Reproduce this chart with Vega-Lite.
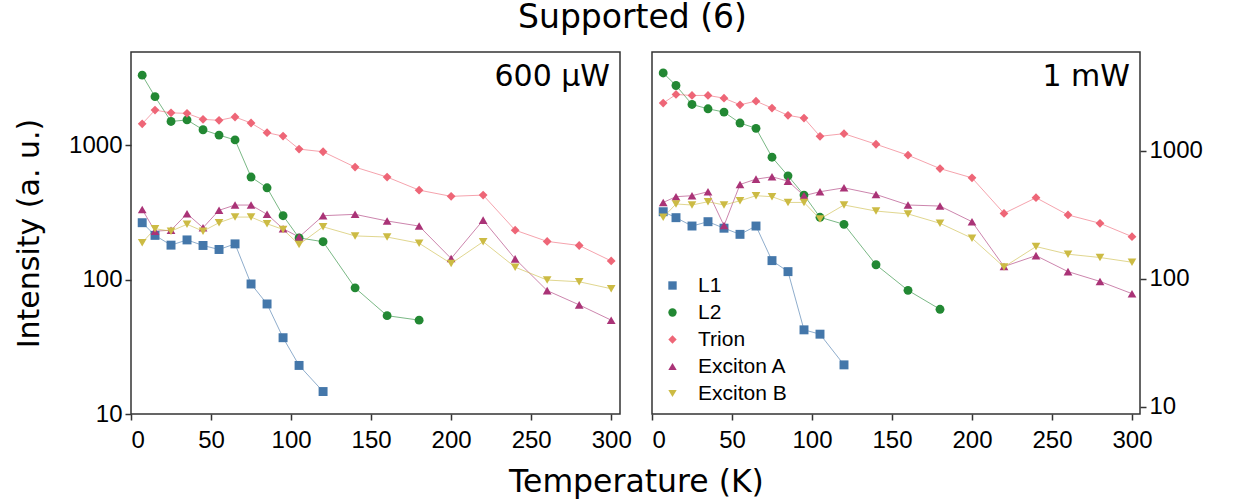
{
  "$schema": "https://vega.github.io/schema/vega-lite/v6.json",
  "background": "white",
  "padding": {"left": 13, "top": 2, "right": 5, "bottom": 5},
  "title": {"text": "Supported (6)", "font": "DejaVu Sans", "fontSize": 33, "fontWeight": "normal", "color": "#000", "anchor": "middle", "offset": 16, "dx": 24},
  "config": {
    "view": {"stroke": "#333", "strokeWidth": 1.5},
    "axis": {"labelFont": "Liberation Sans", "labelFontSize": 24, "labelColor": "#000", "tickColor": "#333", "tickSize": 6, "tickWidth": 1.5, "domain": false, "grid": false, "titleFont": "DejaVu Sans", "titleFontSize": 30, "titleFontWeight": "normal", "titleColor": "#000", "labelPadding": 3},
    "legend": {"labelFont": "Liberation Sans", "labelFontSize": 21, "labelColor": "#000", "symbolSize": 70, "symbolOpacity": 1, "rowPadding": 5, "labelOffset": 15, "symbolStrokeWidth": 0},
    "title": {"font": "DejaVu Sans", "fontWeight": "normal", "color": "#000"}
  },
  "datasets": {
    "left": [
      {"series": "L1", "T": 7, "I": 266}, {"series": "L1", "T": 15, "I": 214}, {"series": "L1", "T": 25, "I": 181}, {"series": "L1", "T": 35, "I": 198}, {"series": "L1", "T": 45, "I": 180}, {"series": "L1", "T": 55, "I": 168}, {"series": "L1", "T": 65, "I": 185}, {"series": "L1", "T": 75, "I": 93}, {"series": "L1", "T": 85, "I": 66}, {"series": "L1", "T": 95, "I": 37}, {"series": "L1", "T": 105, "I": 23}, {"series": "L1", "T": 120, "I": 14.7},
      {"series": "L2", "T": 7, "I": 3340}, {"series": "L2", "T": 15, "I": 2310}, {"series": "L2", "T": 25, "I": 1510}, {"series": "L2", "T": 35, "I": 1550}, {"series": "L2", "T": 45, "I": 1310}, {"series": "L2", "T": 55, "I": 1195}, {"series": "L2", "T": 65, "I": 1100}, {"series": "L2", "T": 75, "I": 582}, {"series": "L2", "T": 85, "I": 484}, {"series": "L2", "T": 95, "I": 300}, {"series": "L2", "T": 105, "I": 205}, {"series": "L2", "T": 120, "I": 192}, {"series": "L2", "T": 140, "I": 87}, {"series": "L2", "T": 160, "I": 54}, {"series": "L2", "T": 180, "I": 50},
      {"series": "Trion", "T": 7, "I": 1450}, {"series": "Trion", "T": 15, "I": 1835}, {"series": "Trion", "T": 25, "I": 1750}, {"series": "Trion", "T": 35, "I": 1735}, {"series": "Trion", "T": 45, "I": 1565}, {"series": "Trion", "T": 55, "I": 1540}, {"series": "Trion", "T": 65, "I": 1630}, {"series": "Trion", "T": 75, "I": 1470}, {"series": "Trion", "T": 85, "I": 1245}, {"series": "Trion", "T": 95, "I": 1175}, {"series": "Trion", "T": 105, "I": 940}, {"series": "Trion", "T": 120, "I": 898}, {"series": "Trion", "T": 140, "I": 690}, {"series": "Trion", "T": 160, "I": 582}, {"series": "Trion", "T": 180, "I": 465}, {"series": "Trion", "T": 200, "I": 418}, {"series": "Trion", "T": 220, "I": 427}, {"series": "Trion", "T": 240, "I": 234}, {"series": "Trion", "T": 260, "I": 193}, {"series": "Trion", "T": 280, "I": 180}, {"series": "Trion", "T": 300, "I": 138},
      {"series": "Exciton A", "T": 7, "I": 334}, {"series": "Exciton A", "T": 15, "I": 230}, {"series": "Exciton A", "T": 25, "I": 234}, {"series": "Exciton A", "T": 35, "I": 310}, {"series": "Exciton A", "T": 45, "I": 244}, {"series": "Exciton A", "T": 55, "I": 329}, {"series": "Exciton A", "T": 65, "I": 360}, {"series": "Exciton A", "T": 75, "I": 360}, {"series": "Exciton A", "T": 85, "I": 307}, {"series": "Exciton A", "T": 95, "I": 240}, {"series": "Exciton A", "T": 105, "I": 208}, {"series": "Exciton A", "T": 120, "I": 300}, {"series": "Exciton A", "T": 140, "I": 307}, {"series": "Exciton A", "T": 160, "I": 274}, {"series": "Exciton A", "T": 180, "I": 251}, {"series": "Exciton A", "T": 200, "I": 144}, {"series": "Exciton A", "T": 220, "I": 278}, {"series": "Exciton A", "T": 240, "I": 143}, {"series": "Exciton A", "T": 260, "I": 83}, {"series": "Exciton A", "T": 280, "I": 65}, {"series": "Exciton A", "T": 300, "I": 50},
      {"series": "Exciton B", "T": 7, "I": 189}, {"series": "Exciton B", "T": 15, "I": 240}, {"series": "Exciton B", "T": 25, "I": 230}, {"series": "Exciton B", "T": 35, "I": 259}, {"series": "Exciton B", "T": 45, "I": 230}, {"series": "Exciton B", "T": 55, "I": 266}, {"series": "Exciton B", "T": 65, "I": 293}, {"series": "Exciton B", "T": 75, "I": 293}, {"series": "Exciton B", "T": 85, "I": 261}, {"series": "Exciton B", "T": 95, "I": 237}, {"series": "Exciton B", "T": 105, "I": 183}, {"series": "Exciton B", "T": 120, "I": 248}, {"series": "Exciton B", "T": 140, "I": 212}, {"series": "Exciton B", "T": 160, "I": 208}, {"series": "Exciton B", "T": 180, "I": 187}, {"series": "Exciton B", "T": 200, "I": 132}, {"series": "Exciton B", "T": 220, "I": 192}, {"series": "Exciton B", "T": 240, "I": 124}, {"series": "Exciton B", "T": 260, "I": 99.5}, {"series": "Exciton B", "T": 280, "I": 96.6}, {"series": "Exciton B", "T": 300, "I": 85.7}
    ],
    "right": [
      {"series": "L1", "T": 7, "I": 335}, {"series": "L1", "T": 15, "I": 301}, {"series": "L1", "T": 25, "I": 259}, {"series": "L1", "T": 35, "I": 280}, {"series": "L1", "T": 45, "I": 249}, {"series": "L1", "T": 55, "I": 223}, {"series": "L1", "T": 65, "I": 259}, {"series": "L1", "T": 75, "I": 139}, {"series": "L1", "T": 85, "I": 114}, {"series": "L1", "T": 95, "I": 40}, {"series": "L1", "T": 105, "I": 37}, {"series": "L1", "T": 120, "I": 21.3},
      {"series": "L2", "T": 7, "I": 4066}, {"series": "L2", "T": 15, "I": 3245}, {"series": "L2", "T": 25, "I": 2308}, {"series": "L2", "T": 35, "I": 2134}, {"series": "L2", "T": 45, "I": 2012}, {"series": "L2", "T": 55, "I": 1652}, {"series": "L2", "T": 65, "I": 1502}, {"series": "L2", "T": 75, "I": 893}, {"series": "L2", "T": 85, "I": 639}, {"series": "L2", "T": 95, "I": 452}, {"series": "L2", "T": 105, "I": 303}, {"series": "L2", "T": 120, "I": 267}, {"series": "L2", "T": 140, "I": 129}, {"series": "L2", "T": 160, "I": 81.4}, {"series": "L2", "T": 180, "I": 57.9},
      {"series": "Trion", "T": 7, "I": 2364}, {"series": "Trion", "T": 15, "I": 2762}, {"series": "Trion", "T": 25, "I": 2713}, {"series": "Trion", "T": 35, "I": 2713}, {"series": "Trion", "T": 45, "I": 2585}, {"series": "Trion", "T": 55, "I": 2293}, {"series": "Trion", "T": 65, "I": 2449}, {"series": "Trion", "T": 75, "I": 2161}, {"series": "Trion", "T": 85, "I": 1897}, {"series": "Trion", "T": 95, "I": 1806}, {"series": "Trion", "T": 105, "I": 1301}, {"series": "Trion", "T": 120, "I": 1364}, {"series": "Trion", "T": 140, "I": 1128}, {"series": "Trion", "T": 160, "I": 926}, {"series": "Trion", "T": 180, "I": 728}, {"series": "Trion", "T": 200, "I": 616}, {"series": "Trion", "T": 220, "I": 325}, {"series": "Trion", "T": 240, "I": 431}, {"series": "Trion", "T": 260, "I": 316}, {"series": "Trion", "T": 280, "I": 272}, {"series": "Trion", "T": 300, "I": 214},
      {"series": "Exciton A", "T": 7, "I": 396}, {"series": "Exciton A", "T": 15, "I": 439}, {"series": "Exciton A", "T": 25, "I": 447}, {"series": "Exciton A", "T": 35, "I": 480}, {"series": "Exciton A", "T": 45, "I": 261}, {"series": "Exciton A", "T": 55, "I": 547}, {"series": "Exciton A", "T": 65, "I": 602}, {"series": "Exciton A", "T": 75, "I": 628}, {"series": "Exciton A", "T": 85, "I": 581}, {"series": "Exciton A", "T": 95, "I": 447}, {"series": "Exciton A", "T": 105, "I": 480}, {"series": "Exciton A", "T": 120, "I": 515}, {"series": "Exciton A", "T": 140, "I": 457}, {"series": "Exciton A", "T": 160, "I": 378}, {"series": "Exciton A", "T": 180, "I": 371}, {"series": "Exciton A", "T": 200, "I": 280}, {"series": "Exciton A", "T": 220, "I": 125}, {"series": "Exciton A", "T": 240, "I": 152}, {"series": "Exciton A", "T": 260, "I": 114}, {"series": "Exciton A", "T": 280, "I": 95.6}, {"series": "Exciton A", "T": 300, "I": 76.7},
      {"series": "Exciton B", "T": 7, "I": 303}, {"series": "Exciton B", "T": 15, "I": 385}, {"series": "Exciton B", "T": 25, "I": 378}, {"series": "Exciton B", "T": 35, "I": 401}, {"series": "Exciton B", "T": 45, "I": 378}, {"series": "Exciton B", "T": 55, "I": 408}, {"series": "Exciton B", "T": 65, "I": 447}, {"series": "Exciton B", "T": 75, "I": 439}, {"series": "Exciton B", "T": 85, "I": 396}, {"series": "Exciton B", "T": 95, "I": 396}, {"series": "Exciton B", "T": 105, "I": 294}, {"series": "Exciton B", "T": 120, "I": 378}, {"series": "Exciton B", "T": 140, "I": 339}, {"series": "Exciton B", "T": 160, "I": 322}, {"series": "Exciton B", "T": 180, "I": 272}, {"series": "Exciton B", "T": 200, "I": 208}, {"series": "Exciton B", "T": 220, "I": 124}, {"series": "Exciton B", "T": 240, "I": 179}, {"series": "Exciton B", "T": 260, "I": 156}, {"series": "Exciton B", "T": 280, "I": 147}, {"series": "Exciton B", "T": 300, "I": 135}
    ]
  },
  "vconcat": [
    {
      "title": {"text": "Temperature (K)", "orient": "bottom", "anchor": "middle", "fontSize": 31.5, "offset": 14, "dx": 28},
      "spacing": 18,
      "resolve": {"scale": {"y": "independent"}, "legend": {"color": "independent", "shape": "independent"}},
      "hconcat": [
        {
          "width": 489,
          "height": 362,
          "data": {"name": "left"},
          "title": {"text": "600 μW", "anchor": "end", "align": "right", "frame": "group", "offset": -40, "fontSize": 30, "dx": -10},
          "layer": [
            {
              "mark": {"type": "line", "strokeWidth": 1, "opacity": 0.6},
              "encoding": {
                "x": {"field": "T", "type": "quantitative", "scale": {"domain": [0, 305.5], "nice": false, "zero": false}, "axis": {"values": [0, 50, 100, 150, 200, 250, 300], "labelPadding": 8, "title": null}},
                "y": {"field": "I", "type": "quantitative", "scale": {"type": "log", "domain": [10, 4970], "nice": false}, "axis": {"values": [10, 100, 1000], "format": "d", "title": "Intensity (a. u.)", "titlePadding": 24}},
                "color": {"field": "series", "type": "nominal", "scale": {"domain": ["L1", "L2", "Trion", "Exciton A", "Exciton B"], "range": ["#4477AA", "#228833", "#EE6677", "#AA3377", "#CCBB44"]}},
                "detail": {"field": "series"}
              }
            },
            {
              "mark": {"type": "point", "filled": true, "opacity": 1},
              "encoding": {
                "x": {"field": "T", "type": "quantitative"},
                "y": {"field": "I", "type": "quantitative"},
                "color": {"field": "series", "type": "nominal", "legend": null},
                "shape": {"field": "series", "type": "nominal", "scale": {"domain": ["L1", "L2", "Trion", "Exciton A", "Exciton B"], "range": ["square", "circle", "diamond", "triangle-up", "triangle-down"]}, "legend": null},
                "size": {"field": "series", "type": "nominal", "scale": {"domain": ["L1", "L2", "Trion", "Exciton A", "Exciton B"], "range": [80, 75, 170, 165, 165]}, "legend": null}
              }
            }
          ]
        },
        {
          "width": 488,
          "height": 362,
          "data": {"name": "right"},
          "title": {"text": "1 mW", "anchor": "end", "align": "right", "frame": "group", "offset": -40, "fontSize": 30, "dx": -10},
          "layer": [
            {
              "mark": {"type": "line", "strokeWidth": 1, "opacity": 0.6},
              "encoding": {
                "x": {"field": "T", "type": "quantitative", "scale": {"domain": [0, 305], "nice": false, "zero": false}, "axis": {"values": [0, 50, 100, 150, 200, 250, 300], "labelPadding": 8, "title": null}},
                "y": {"field": "I", "type": "quantitative", "scale": {"type": "log", "domain": [8.8, 5930], "nice": false}, "axis": {"orient": "right", "values": [10, 100, 1000], "format": "d", "title": null}},
                "color": {"field": "series", "type": "nominal", "scale": {"domain": ["L1", "L2", "Trion", "Exciton A", "Exciton B"], "range": ["#4477AA", "#228833", "#EE6677", "#AA3377", "#CCBB44"]}},
                "detail": {"field": "series"}
              }
            },
            {
              "mark": {"type": "point", "filled": true, "opacity": 1},
              "encoding": {
                "x": {"field": "T", "type": "quantitative"},
                "y": {"field": "I", "type": "quantitative"},
                "color": {"field": "series", "type": "nominal", "legend": {"title": null, "orient": "bottom-left", "offset": 10, "symbolOpacity": 1}},
                "shape": {"field": "series", "type": "nominal", "scale": {"domain": ["L1", "L2", "Trion", "Exciton A", "Exciton B"], "range": ["square", "circle", "diamond", "triangle-up", "triangle-down"]}, "legend": {"title": null, "orient": "bottom-left", "offset": 10, "symbolOpacity": 1}},
                "size": {"field": "series", "type": "nominal", "scale": {"domain": ["L1", "L2", "Trion", "Exciton A", "Exciton B"], "range": [80, 75, 170, 165, 165]}, "legend": null}
              }
            }
          ]
        }
      ]
    }
  ]
}
